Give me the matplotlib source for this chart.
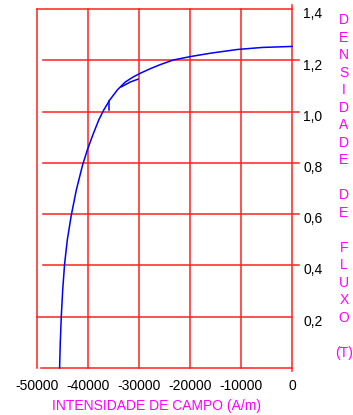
import numpy as np
import matplotlib.pyplot as plt

plt.rcParams['font.family'] = ['Liberation Sans', 'DejaVu Sans']

# curva B x H
campo = [-45574, -45437, -45241, -44967, -44595, -44066, -43282, -42303,
         -41069, -40149, -39072, -37896, -36917, -35742, -34273, -32706,
         -31140, -29573, -27810, -25852, -23306, -19780, -15863, -10771,
         -5875, 0]
densidade = [0.0, 0.100, 0.201, 0.304, 0.405, 0.499, 0.596, 0.694,
             0.792, 0.850, 0.909, 0.968, 1.007, 1.046, 1.085, 1.116,
             1.136, 1.152, 1.168, 1.184, 1.202, 1.216, 1.229, 1.243,
             1.251, 1.255]

# tracos soltos do desenho a mao
gancho_x = [-33500, -31730, -30220]
gancho_y = [1.097, 1.116, 1.127]
risco_x = [-35950, -35950]
risco_y = [1.042, 1.007]

x_ticks = [-50000, -40000, -30000, -20000, -10000, 0]
x_labels = ['-50000', '-40000', '-30000', '-20000', '-10000', '0']
y_ticks = [0.2, 0.4, 0.6, 0.8, 1.0, 1.2, 1.4]
y_labels = ['0,2', '0,4', '0,6', '0,8', '1,0', '1,2', '1,4']

fig = plt.figure(figsize=(3.53, 4.15), dpi=100)
ax = fig.add_axes([37/353, 47.3/415, 255.3/353, 358.4/415])
ax.set_xlim(-50000, 0)
ax.set_ylim(0, 1.4)
ax.axis('off')

red = '#ff2020'
# grade vertical
for xv in x_ticks[1:-1]:
    ax.plot([xv, xv], [0, 1.4], color=red, lw=1.1, clip_on=False)
ax.plot([-50000, -50000], [0, 1.4], color=red, lw=1.1, clip_on=False)
ax.plot([0, 0], [-0.012, 1.415], color=red, lw=1.1, clip_on=False)
# grade horizontal
for yv in y_ticks:
    if yv in (0.2, 1.4):
        ax.plot([-50000, 0], [yv, yv], color=red, lw=1.1, clip_on=False)
    else:
        ax.plot([-48800, 1300], [yv, yv], color=red, lw=1.1, clip_on=False)
ax.plot([-49300, 0], [0, 0], color=red, lw=1.1, clip_on=False)

# curva
ax.plot(campo, densidade, color='#0000ff', lw=1.1, clip_on=False,
        solid_joinstyle='round')
ax.plot(gancho_x, gancho_y, color='#0000ff', lw=1.1, solid_joinstyle='round')
ax.plot(risco_x, risco_y, color='#0000ff', lw=1.1)

# rotulos
for xv, lab in zip(x_ticks, x_labels):
    ax.annotate(lab, (xv, 0), xytext=(0, -18), textcoords='offset pixels',
                ha='center', va='center', fontsize=10, annotation_clip=False)
for yv, lab in zip(y_ticks, y_labels):
    ax.annotate(lab, (0, yv), xytext=(11, -5), textcoords='offset pixels',
                ha='left', va='center', fontsize=10, annotation_clip=False)

fig.text(157/353, 1 - 406/415, 'INTENSIDADE DE CAMPO (A/m)', color='#ff00ff',
         fontsize=10, ha='center', va='center')
vert = 'D\nE\nN\nS\nI\nD\nA\nD\nE\n\nD\nE\n\nF\nL\nU\nX\nO\n\n(T)'
fig.text(344/353, 1 - 13/415, vert, color='#ff00ff', fontsize=10,
         ha='center', va='top', linespacing=1.32, multialignment='center')

fig.savefig('out.png', dpi=100)
